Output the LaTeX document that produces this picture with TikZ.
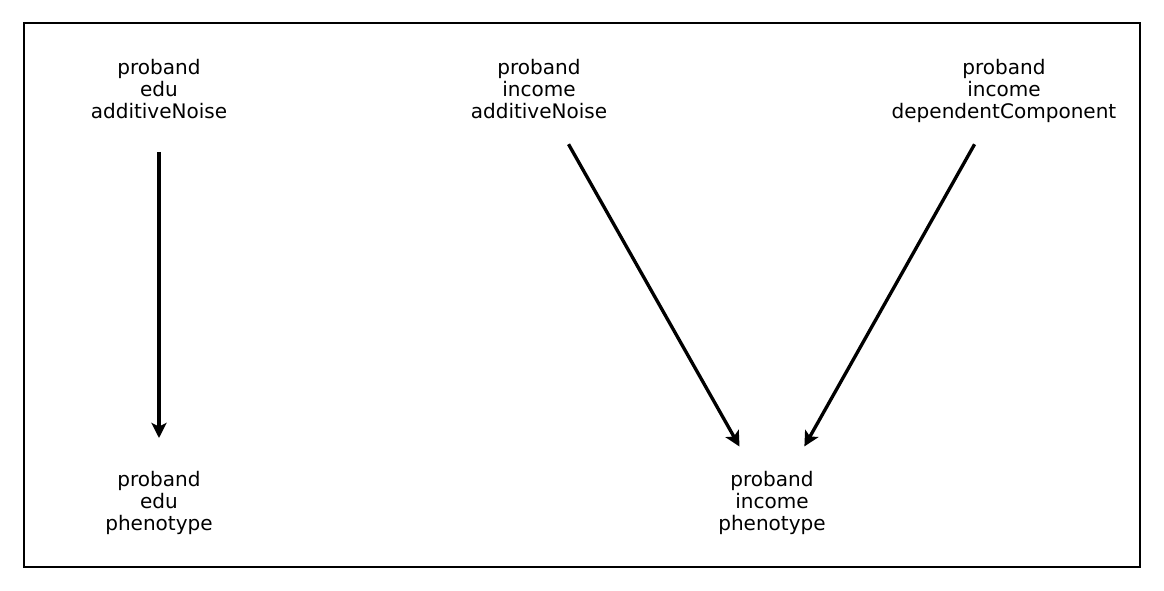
\documentclass[tikz,border=0pt]{standalone}
\usepackage{fontspec}
\setmainfont{DejaVu Sans}
\usetikzlibrary{arrows.meta}

\begin{document}
\begin{tikzpicture}[
  x=0.02cm, y=-0.02cm,
  >={Stealth[length=0.3cm, width=0.3cm, inset=0.07cm]},
  varnode/.style={align=center, inner sep=0pt,
                  font=\fontsize{11.4}{12.6}\selectfont,
                  execute at end node=\strut},
  arr/.style={->, line width=1.9pt, shorten <=1.2cm, shorten >=1.32cm},
]

%% ── Frame ───────────────────────────────────────────────────────────────────
\useasboundingbox (0,0) rectangle (1164,591);
\draw[line width=1.1pt] (24,23) rectangle (1140,567);

%% ── Noise / component nodes ─────────────────────────────────────────────────
\node[varnode] (eduNoise) at (159,92) {proband\\edu\\additiveNoise};
\node[varnode] (incNoise) at (539,92) {proband\\income\\additiveNoise};
\node[varnode] (incDep)   at (1004,92) {proband\\income\\dependentComponent};

%% ── Phenotypes ──────────────────────────────────────────────────────────────
\node[varnode] (eduPheno) at (159,504) {proband\\edu\\phenotype};
\node[varnode] (incPheno) at (772,504) {proband\\income\\phenotype};

%% ── Arrows ──────────────────────────────────────────────────────────────────
\draw[arr] (eduNoise.center) -- (eduPheno.center);
\draw[arr] (incNoise.center) -- (incPheno.center);
\draw[arr] (incDep.center)   -- (incPheno.center);

\end{tikzpicture}
\end{document}
